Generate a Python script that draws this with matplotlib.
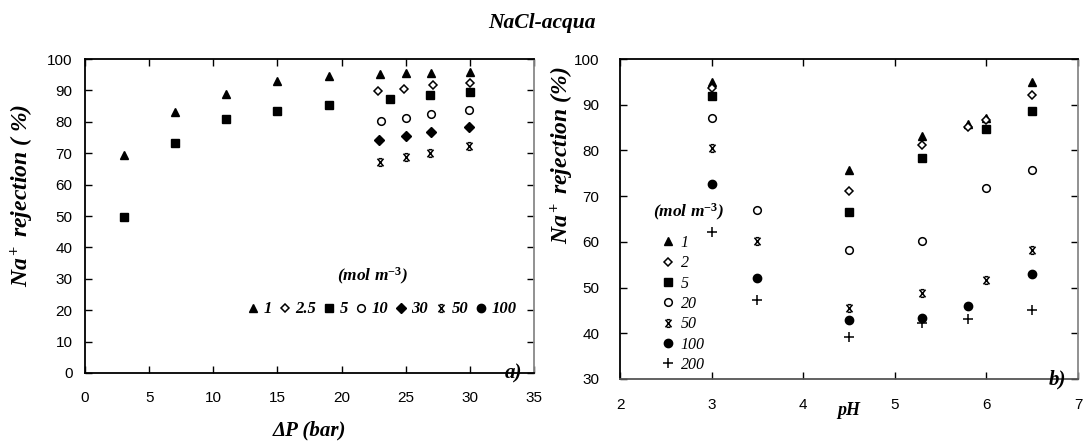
import numpy as np
import matplotlib
matplotlib.use('Agg')
import matplotlib.pyplot as plt
from matplotlib.path import Path

# ---- data, panel a) : rejection vs pressure, per feed concentration (mol m-3)
conc_a = ['1', '2.5', '5', '10', '30', '50', '100']
dp_1 = [3, 7, 11, 15, 19, 23, 25, 27, 30]
rej_1 = [69.3, 83.0, 89.0, 93.1, 94.5, 95.1, 95.5, 95.6, 96.0]
dp_2_5 = [22.8, 24.9, 27.1, 30]
rej_2_5 = [89.8, 90.6, 91.7, 92.2]
dp_5 = [3, 7, 11, 15, 19, 23.8, 26.9, 30]
rej_5 = [49.6, 73.4, 80.9, 83.4, 85.3, 87.4, 88.5, 89.6]
dp_10 = [23.1, 25, 27, 29.9]
rej_10 = [80.1, 81.3, 82.4, 83.8]
dp_30 = [22.9, 25, 27, 29.9]
rej_30 = [74.1, 75.5, 76.8, 78.4]
dp_50 = [23.0, 25, 26.9, 29.9]
rej_50 = [67.2, 68.9, 70.2, 72.3]
dp_100 = []
rej_100 = []

# ---- data, panel b) : rejection vs pH
conc_b = ['1', '2', '5', '20', '50', '100', '200']
ph_1 = [3, 4.5, 5.3, 5.8, 6, 6.5]
rb_1 = [95.0, 75.7, 83.1, 85.8, 87.1, 94.9]
ph_2 = [3, 4.5, 5.3, 5.8, 6, 6.5]
rb_2 = [93.6, 71.2, 81.2, 85.1, 86.7, 92.1]
ph_5 = [3, 4.5, 5.3, 6, 6.5]
rb_5 = [92.0, 66.6, 78.4, 84.6, 88.6]
ph_20 = [3, 3.5, 4.5, 5.3, 6, 6.5]
rb_20 = [87.1, 67.0, 58.3, 60.2, 71.7, 75.7]
ph_50 = [3, 3.5, 4.5, 5.3, 6, 6.5]
rb_50 = [80.5, 60.1, 45.5, 48.8, 51.6, 58.3]
ph_100 = [3, 3.5, 4.5, 5.3, 5.8, 6.5]
rb_100 = [72.7, 52.1, 43.0, 43.3, 46.0, 53.0]
ph_200 = [3, 3.5, 4.5, 5.3, 5.8, 6.5]
rb_200 = [62.1, 47.3, 39.2, 42.3, 43.2, 45.1]

plt.rcParams['font.family'] = 'Liberation Sans'
plt.rcParams['mathtext.fontset'] = 'custom'
plt.rcParams['mathtext.rm'] = 'Liberation Serif:bold'
plt.rcParams['mathtext.it'] = 'Liberation Serif:italic:bold'
plt.rcParams['mathtext.bf'] = 'Liberation Serif:bold'

serif_bi = dict(family='Liberation Serif', weight='bold', style='italic')

# asterisk like marker: an x with short caps top and bottom
star = Path([(-0.8, -1), (0.8, 1), (-0.8, 1), (0.8, -1), (-0.45, 1), (0.45, 1), (-0.45, -1), (0.45, -1)],
            [Path.MOVETO, Path.LINETO, Path.MOVETO, Path.LINETO,
             Path.MOVETO, Path.LINETO, Path.MOVETO, Path.LINETO])

styles = [dict(marker='^', ms=6, mfc='k', mec='k'),
          dict(marker='D', ms=4.2, mfc='w', mec='k', mew=1.1),
          dict(marker='s', ms=6.3, mfc='k', mec='k'),
          dict(marker='o', ms=5.5, mfc='w', mec='k', mew=1.1),
          dict(marker='D', ms=5, mfc='k', mec='k'),
          dict(marker=star, ms=5.5, mfc='none', mec='k', mew=1.1),
          dict(marker='o', ms=6, mfc='k', mec='k')]
styles_b = styles[:4] + [dict(marker=star, ms=5.5, mfc='none', mec='k', mew=1.1),
                         dict(marker='o', ms=6, mfc='k', mec='k'),
                         dict(marker='+', ms=7, mfc='none', mec='k', mew=1.1)]

fig = plt.figure(figsize=(10.83, 4.41), dpi=100)
fig.text(0.5, 0.947, 'NaCl-acqua', ha='center', va='center', fontsize=15.5, **serif_bi)


def frame(ax, xpad, ypad):
    ax.tick_params(direction='in', top=True, right=True, length=5, width=1,
                   labelsize=11)
    ax.tick_params(axis='x', pad=xpad)
    ax.tick_params(axis='y', pad=ypad)
    for s in ['left', 'bottom', 'top']:
        ax.spines[s].set_linewidth(1.3)
    ax.spines['right'].set_color('#888888')
    ax.spines['right'].set_linewidth(1.3)


# ---------- panel a
ax1 = fig.add_axes([0.0785, 0.1542, 0.4146, 0.712])
xs = [dp_1, dp_2_5, dp_5, dp_10, dp_30, dp_50, dp_100]
ys = [rej_1, rej_2_5, rej_5, rej_10, rej_30, rej_50, rej_100]
for x, y, lab, st in zip(xs, ys, conc_a, styles):
    ax1.plot(x, y, ls='none', label=lab, **st)
ax1.set_xlim(0, 35)
ax1.set_ylim(0, 100)
ax1.set_xticks(np.arange(0, 36, 5))
ax1.set_yticks(np.arange(0, 101, 10))
frame(ax1, 13, 9)
ax1.set_xlabel('ΔP (bar)', fontsize=15, **serif_bi)
ax1.xaxis.set_label_coords(0.5, -0.15)
ax1.set_ylabel('Na$^+$ rejection ( %)', fontsize=17, **serif_bi)
ax1.yaxis.set_label_coords(-0.11, 0.567)
ax1.text(22.4, 30.9, '(mol m$^{-3}$)', ha='center', va='center', fontsize=12.5, **serif_bi)
leg1 = ax1.legend(loc='upper left', bbox_to_anchor=(0.363, 0.228), ncol=7, frameon=False,
                  numpoints=1, handlelength=0.6, handletextpad=0.35, columnspacing=0.45,
                  borderpad=0, borderaxespad=0,
                  prop=dict(family='Liberation Serif', weight='bold', style='italic', size=12))
ax1.text(0.955, 0.0, 'a)', transform=ax1.transAxes, ha='center', va='center',
         fontsize=15, **serif_bi)

# ---------- panel b
ax2 = fig.add_axes([0.5725, 0.1406, 0.4229, 0.7256])
xs = [ph_1, ph_2, ph_5, ph_20, ph_50, ph_100, ph_200]
ys = [rb_1, rb_2, rb_5, rb_20, rb_50, rb_100, rb_200]
for x, y, lab, st in zip(xs, ys, conc_b, styles_b):
    ax2.plot(x, y, ls='none', label=lab, **st)
ax2.set_xlim(2, 7)
ax2.set_ylim(30, 100)
ax2.set_xticks(np.arange(2, 8, 1))
ax2.set_yticks(np.arange(30, 101, 10))
frame(ax2, 14, 15)
ax2.spines['bottom'].set_color('#555555')
ax2.set_xlabel('pH', fontsize=13, **serif_bi)
ax2.xaxis.set_label_coords(0.5, -0.072)
ax2.set_ylabel('Na$^+$ rejection (%)', fontsize=17, **serif_bi)
ax2.yaxis.set_label_coords(-0.096, 0.70)
ax2.text(2.75, 66.5, '(mol m$^{-3}$)', ha='center', va='center', fontsize=12.5, **serif_bi)
leg2 = ax2.legend(loc='upper left', bbox_to_anchor=(0.087, 0.45), ncol=1, frameon=False,
                  numpoints=1, handlelength=1.0, handletextpad=0.3, labelspacing=0.27,
                  borderpad=0, borderaxespad=0,
                  prop=dict(family='Liberation Serif', style='italic', size=11.5))
ax2.text(0.955, 0.0, 'b)', transform=ax2.transAxes, ha='center', va='center',
         fontsize=15, **serif_bi)

fig.savefig('out.png', dpi=100)
